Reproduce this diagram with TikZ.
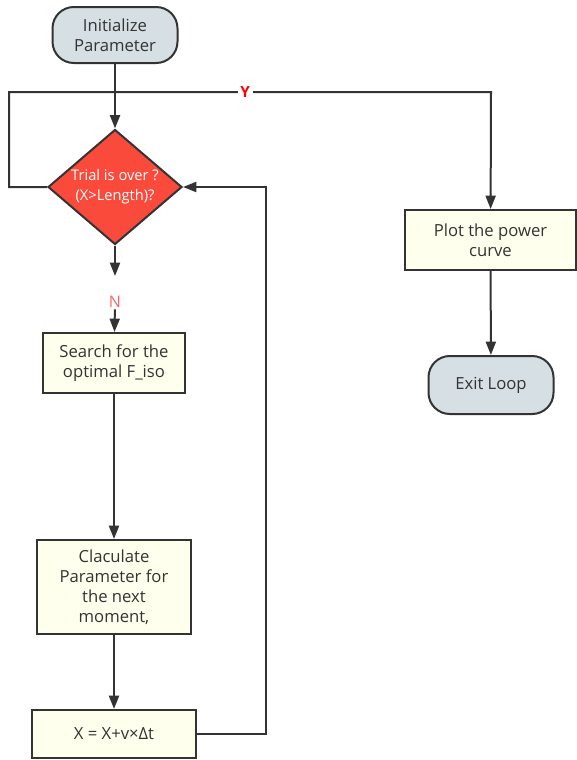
\documentclass[tikz,border=0pt]{standalone}
\usepackage{fontspec}
\setmainfont{Open Sans}
\usepackage{tikz}
\usetikzlibrary{arrows.meta,shapes,positioning}
\usepackage{xcolor}
\definecolor{fcline}{RGB}{51,51,51}
\definecolor{fctext}{RGB}{51,51,51}
\definecolor{fcgrey}{RGB}{214,223,228}
\definecolor{fccream}{RGB}{255,255,238}
\definecolor{fcred}{RGB}{250,74,60}
\definecolor{fcyes}{RGB}{255,0,0}
\definecolor{fcno}{RGB}{255,100,100}
\tikzstyle{terminal} = [rectangle, rounded corners=16pt, minimum width=93.75pt, minimum height=42pt, align=center, draw=fcline, fill=fcgrey, line width=1.5pt, text=fctext, font=\fontsize{12.5}{15}\selectfont]
\tikzstyle{process} = [rectangle, align=center, draw=fcline, fill=fccream, line width=1.5pt, text=fctext, font=\fontsize{12.5}{15}\selectfont]
\tikzstyle{decision} = [diamond, minimum width=100.5pt, minimum height=86.25pt, inner sep=0pt, draw=fcline, fill=fcred, line width=1.5pt]
\tikzstyle{arrow} = [line width=1.5pt, draw=fcline, -{Triangle[length=10pt,width=7.5pt]}]
\tikzstyle{line} = [line width=1.5pt, draw=fcline]

\begin{document}
\begin{tikzpicture}[x=0.75pt, y=-0.75pt, font=\fontsize{11}{15}\selectfont]
\useasboundingbox (0,0) rectangle (576,760);

% Start and test
\node[terminal] (init) at (115,35) {Initialize\\Parameter};
\node[decision, label={[text=white, align=center]center:Trial is over ?\\(X>Length)?}] (dec) at (115,187) {};
\node[text=fcno, inner sep=1pt, font=\fontsize{12}{15}\selectfont] (nlab) at (115,302) {N};

% Loop body
\node[process, minimum width=106.5pt, minimum height=45pt] (search) at (114,363) {Search for the\\optimal F\_iso};
\node[process, minimum width=115.5pt, minimum height=70.5pt] (calc) at (114,587) {Claculate\\Parameter for\\the next\\moment,};
\node[process, minimum width=123pt, minimum height=36pt] (xupd) at (114,734) {X = X+v×Δt};

% Exit branch
\node[process, minimum width=128pt, minimum height=45pt] (plot) at (490.5,240) {Plot the power\\curve};
\node[terminal, minimum height=43.5pt] (exit) at (491,385) {Exit Loop};

\coordinate (yleft) at (9,92);
\coordinate (yright) at (491,92);

% Arrows
\draw[arrow] (init) -- (dec);
\draw[arrow, shorten >=14pt] (dec) -- (nlab);
\draw[arrow] (nlab) -- (search);
\draw[arrow] (search) -- (calc);
\draw[arrow] (calc) -- (xupd);
\draw[arrow] (xupd.east) -- ++(69,0) |- (dec.east);
\draw[arrow] (dec.west) -| (yleft) -- node[pos=0.49, fill=white, inner sep=2pt, text=fcyes, font=\fontsize{11.5}{15}\selectfont\bfseries] {Y} (yright) -- (plot);
\draw[arrow] (plot) -- (exit);
\end{tikzpicture}
\end{document}
